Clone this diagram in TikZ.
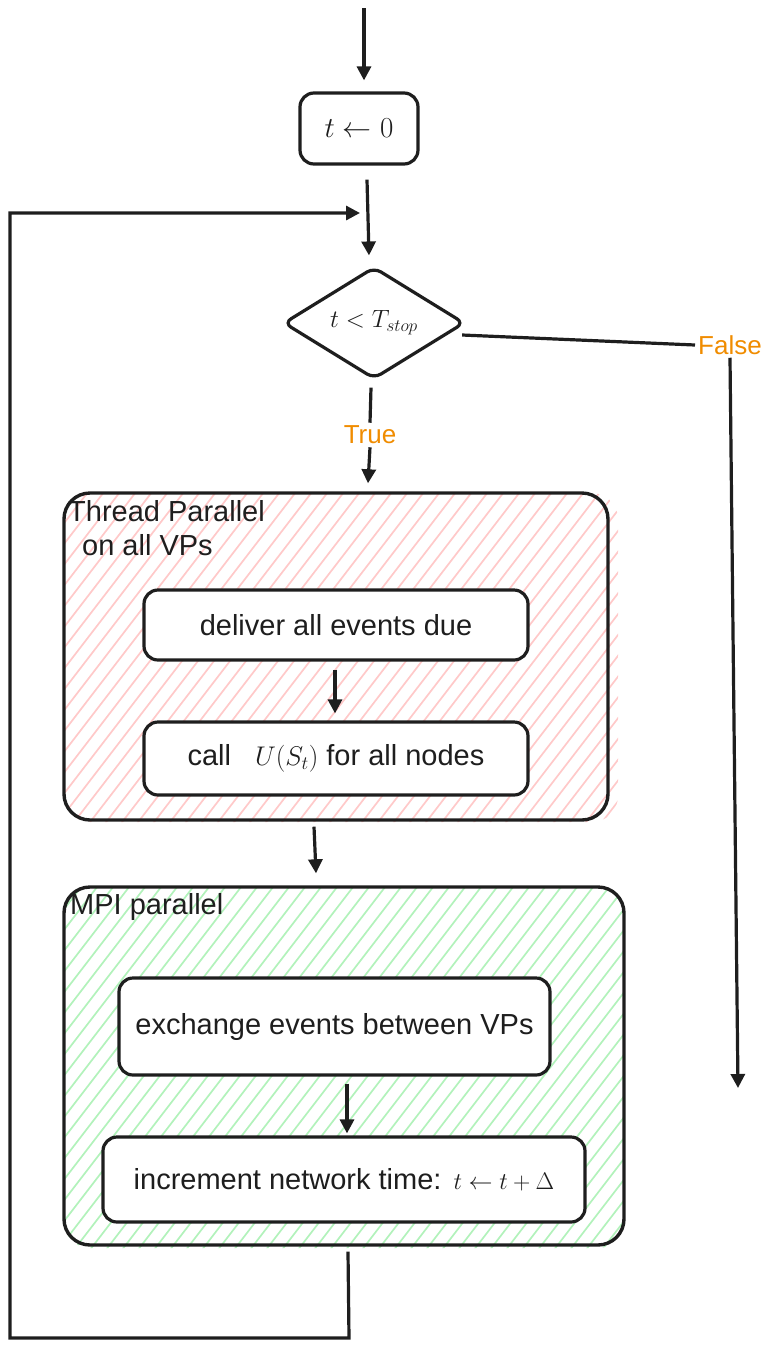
\documentclass[tikz,border=0pt]{standalone}
\usepackage{fix-cm}
\usepackage{fontspec}
\setmainfont{Liberation Sans}
\usetikzlibrary{shapes.geometric,arrows.meta,calc}
\definecolor{ink}{HTML}{1E1E1E}
\definecolor{hpink}{HTML}{FFC9C9}
\definecolor{hgreen}{HTML}{B2F2BB}
\definecolor{lbl}{HTML}{F08C00}
\begin{document}
\begin{tikzpicture}[x=1pt,y=-1pt,
  every node/.style={font=\fontsize{29}{34}\selectfont, text=ink},
  box/.style={draw=ink, line width=3.2pt, rounded corners=14pt, fill=white, inner sep=0pt},
  big/.style={draw=ink, line width=3.4pt, rounded corners=26pt, inner sep=0pt},
  arr/.style={draw=ink, line width=3.2pt, -{Triangle[width=14pt,length=14pt]}},
  con/.style={draw=ink, line width=3.2pt},
  lab/.style={text=lbl, font=\fontsize{26}{30}\selectfont, inner sep=3pt},
  hat/.style={line width=1.7pt},
]
\useasboundingbox (0,0) rectangle (775,1350);

% hatching
\begin{scope}
\clip[rounded corners=26pt] (64,493) rectangle (618,822);
\foreach \k in {0,...,60} \draw[hpink,hat] ({-300+16*\k},830) -- ++(300,-390);
\end{scope}
\begin{scope}
\clip[rounded corners=26pt] (64,887) rectangle (624,1248);
\foreach \k in {0,...,65} \draw[hgreen,hat] ({-330+16*\k},1255) -- ++(330,-429);
\end{scope}

% containers
\node[big, minimum width=544pt, minimum height=327pt] (thr) at (336,656.5) {};
\node[big, minimum width=560pt, minimum height=358pt] (mpi) at (344,1066) {};
\node[anchor=north west, align=left, inner sep=0pt] (thrl) at (68,500) {Thread Parallel\\\hspace*{14pt}on all VPs};
\node[anchor=north west, inner sep=0pt] (mpil) at (70,893) {MPI parallel};

% steps
\node[box, minimum width=118pt, minimum height=71pt] (ini) at (359,128.5) {\fontsize{29}{33}\selectfont$t\leftarrow0$};
\node[draw=ink, line width=3.2pt, diamond, rounded corners=8pt, minimum width=181pt, minimum height=110pt, inner sep=0pt] (dec) at (374,323) {\fontsize{25}{29}\selectfont$t<T_{stop}$};
\node[box, minimum width=384pt, minimum height=70pt] (del) at (336,625) {deliver all events due};
\node[box, minimum width=384pt, minimum height=73pt] (cal) at (336,758.5) {call\hspace{24pt}{\fontsize{27}{31}\selectfont$U(S_t)$}\hspace{8pt}for all nodes};
\node[box, minimum width=431pt, minimum height=97pt] (exc) at (334.5,1026.5) {exchange events between VPs};
\node[box, minimum width=482pt, minimum height=85pt] (inc) at (344,1179.5) {increment network time:\hspace{12pt}{\fontsize{24}{28}\selectfont$t\leftarrow t+\Delta$}};

% labels
\node[lab] (fl) at (730,345) {False};
\node[lab] (tl) at (370,435) {True};

% connectors
\coordinate (s0) at (364,8);
\coordinate (fend) at (738,1088);
\coordinate (l1) at (349,1338);
\coordinate (l2) at (10,1338);
\coordinate (l3) at (10,213);
\coordinate (lend) at (360,213);

\draw[arr] (s0) -- ($(ini.north)+(5,-11)$);
\draw[arr] ($(ini.south)+(8,14)$) -- ($(dec.north)+(-5,-10)$);
\draw[con] ($(dec.east)+(-4,12)$) -- (fl.west);
\draw[arr] (fl.south) -- (fend);
\draw[con] ($(dec.south)+(-3,7)$) -- (tl.north);
\draw[arr] (tl.south) -- ($(thr.north)+(32,-8)$);
\draw[arr] ($(del.south)+(-1,8)$) -- ($(cal.north)+(-1,-7)$);
\draw[arr] ($(thr.south)+(-22,5)$) -- ($(mpi.north)+(-28,-12)$);
\draw[arr] ($(exc.south)+(12.5,7)$) -- ($(inc.north)+(3,-2)$);
\draw[arr] ($(mpi.south)+(4,5)$) -- (l1) -- (l2) -- (l3) -- (lend);
\end{tikzpicture}
\end{document}
